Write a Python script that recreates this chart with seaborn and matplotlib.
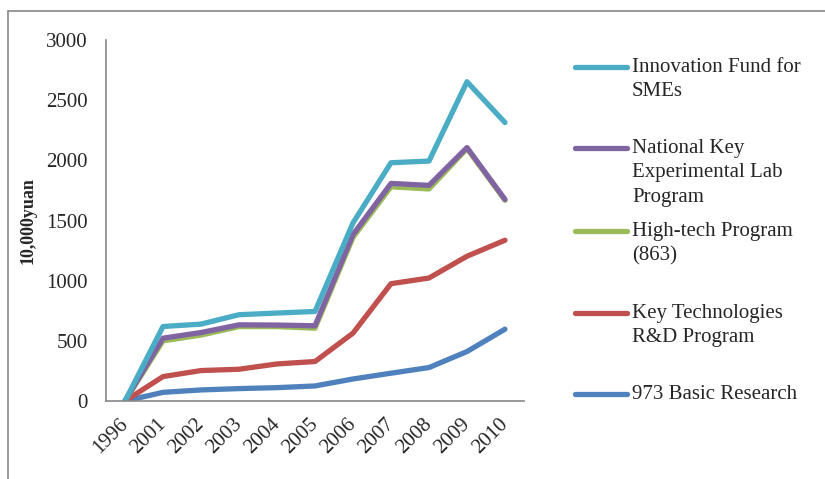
import matplotlib
matplotlib.use("Agg")
import matplotlib.pyplot as plt
from matplotlib.lines import Line2D
import seaborn as sns
import pandas as pd

years = ["1996", "2001", "2002", "2003", "2004", "2005",
         "2006", "2007", "2008", "2009", "2010"]

innovation_fund = [0, 619, 639, 717, 731, 744, 1480, 1980, 1994, 2653, 2314]
national_key_lab = [0, 522, 569, 633, 631, 625, 1383, 1808, 1792, 2106, 1675]
high_tech_863 = [0, 500, 548, 618, 618, 605, 1360, 1780, 1762, 2098, 1668]
key_technologies = [0, 203, 253, 264, 308, 328, 564, 975, 1022, 1203, 1336]
basic_research_973 = [0, 72, 92, 103, 111, 125, 183, 231, 278, 411, 597]

labels = ["Innovation Fund for\nSMEs",
          "National Key\nExperimental Lab\nProgram",
          "High-tech Program\n(863)",
          "Key Technologies\nR&D Program",
          "973 Basic Research"]
series = [innovation_fund, national_key_lab, high_tech_863,
          key_technologies, basic_research_973]
colors = ["#4BACC6", "#8064A2", "#9BBB59", "#C0504D", "#4F81BD"]

frames = []
for lab, vals in zip(labels, series):
    frames.append(pd.DataFrame({"year": years, "value": vals, "program": lab}))
df = pd.concat(frames, ignore_index=True)

sns.set_style("white")
plt.rcParams["font.family"] = ["Liberation Serif", "DejaVu Serif"]

fig = plt.figure(figsize=(8.25, 4.79), dpi=100)
ax = fig.add_axes([106 / 825, 1 - 401 / 479, 418 / 825, 361 / 479])

# draw in reverse so the first program ends up on top
draw_order = labels[::-1]
sns.lineplot(data=df, x="year", y="value", hue="program",
             hue_order=draw_order,
             palette=dict(zip(labels, colors)),
             linewidth=3.8, solid_capstyle="round", solid_joinstyle="round",
             legend=False, sort=False, ax=ax)

ax.set_xlim(-0.5, len(years) - 0.5)
ax.set_ylim(0, 3000)
ax.set_yticks([0, 500, 1000, 1500, 2000, 2500, 3000])
ax.set_xlabel("")
ax.set_ylabel("10,000yuan", fontsize=13, fontweight="bold")
ax.yaxis.set_label_coords(-0.167, 0.5)

for s in ["top", "right"]:
    ax.spines[s].set_visible(False)
for s in ["left", "bottom"]:
    ax.spines[s].set_color("#868686")
    ax.spines[s].set_linewidth(1.2)

ax.tick_params(axis="y", length=0, pad=13, labelsize=15)
ax.tick_params(axis="x", length=0, pad=15, labelsize=15)
for t in ax.get_xticklabels():
    t.set_rotation(45)
    t.set_ha("right")
    t.set_va("center")
    t.set_rotation_mode("anchor")

# legend built alongside the plot, handle aligned with first text line
W, H = 825, 479
legend_y = [67, 148, 231, 313, 394]
for lab, col, yy in zip(labels, colors, legend_y):
    fy = 1 - yy / H
    fig.add_artist(Line2D([575 / W, 627 / W], [fy, fy], color=col,
                          linewidth=3.8, solid_capstyle="round",
                          transform=fig.transFigure))
    fig.text(632 / W, 1 - (yy - 9) / H, lab, fontsize=15, va="top",
             ha="left", linespacing=1.38)

# outer frame lines
fig.add_artist(Line2D([8 / W, 1], [1 - 11 / H, 1 - 11 / H], color="#888888",
                      linewidth=1.2, transform=fig.transFigure))
fig.add_artist(Line2D([8 / W, 8 / W], [0, 1 - 11 / H], color="#888888",
                      linewidth=1.2, transform=fig.transFigure))

fig.savefig("out.png", dpi=100)
